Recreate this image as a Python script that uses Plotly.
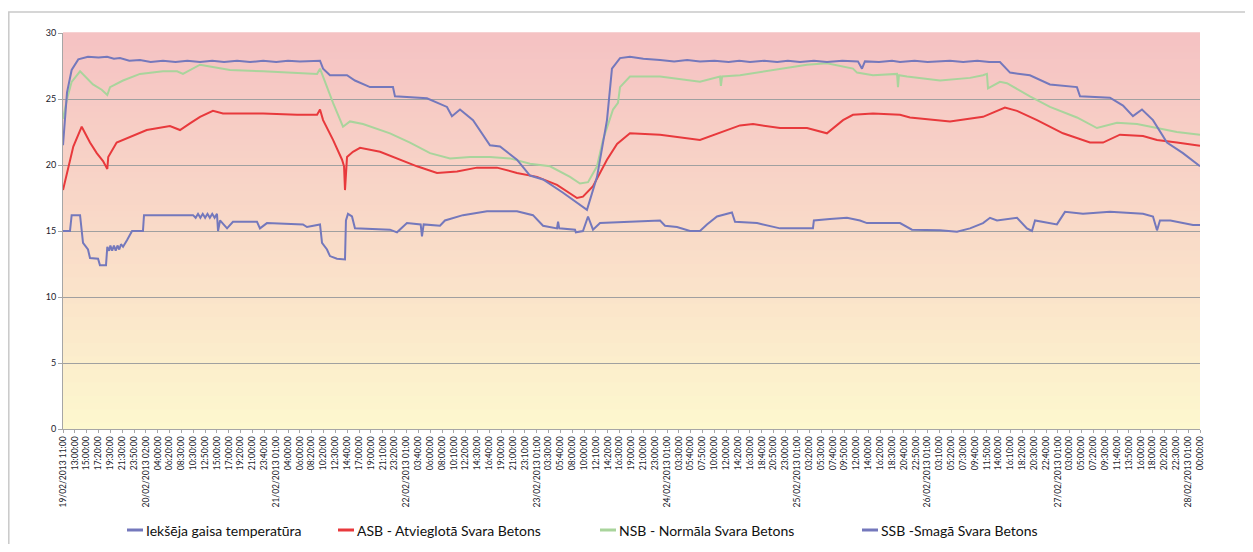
import plotly.graph_objects as go

# ---------------- data (x in tick-label index units, y in degC) ----------------
tick_labels = [
    "19/02/2013 11:00", "13:00:00", "15:00:00", "17:20:00", "19:30:00", "21:30:00", "23:50:00",
    "20/02/2013 02:00", "04:00:00", "06:20:00", "08:30:00", "10:30:00", "12:50:00", "15:00:00",
    "17:00:00", "19:20:00", "21:00:00", "23:40:00",
    "21/02/2013 01:00", "04:00:00", "06:00:00", "08:20:00", "10:20:00", "12:30:00", "14:40:00",
    "17:00:00", "19:00:00", "21:10:00", "23:20:00",
    "22/02/2013 01:00", "03:40:00", "06:00:00", "08:00:00", "10:10:00", "12:20:00", "14:30:00",
    "16:40:00", "19:00:00", "21:00:00", "23:10:00",
    "23/02/2013 01:00", "03:30:00", "05:40:00", "08:00:00", "10:00:00", "12:10:00", "14:20:00",
    "16:30:00", "19:00:00", "21:00:00", "23:00:00",
    "24/02/2013 01:00", "03:30:00", "05:40:00", "07:50:00", "10:00:00", "12:00:00", "14:20:00",
    "16:30:00", "18:40:00", "20:50:00", "23:00:00",
    "25/02/2013 01:00", "03:20:00", "05:30:00", "07:40:00", "09:50:00", "12:00:00", "14:00:00",
    "16:20:00", "18:30:00", "20:40:00", "22:50:00",
    "26/02/2013 01:00", "03:10:00", "05:20:00", "07:30:00", "09:40:00", "11:50:00", "14:00:00",
    "16:10:00", "18:20:00", "20:30:00", "22:40:00",
    "27/02/2013 01:00", "03:00:00", "05:00:00", "07:20:00", "09:30:00", "11:40:00", "13:50:00",
    "16:00:00", "18:00:00", "20:20:00", "22:30:00",
    "28/02/2013 01:00", "00:00:00",
]

series_names = [
    "Iekšēja gaisa temperatūra",
    "ASB - Atvieglotā Svara Betons",
    "NSB - Normāla Svara Betons",
    "SSB -Smagā Svara Betons",
]

iek_x = [0, 0.59, 0.73, 1.44, 1.69, 2.11, 2.28, 2.96, 3.12, 3.63, 3.74, 3.9, 4.0, 4.15, 4.3, 4.45,
         4.6, 4.75, 4.9, 5.07, 5.40, 5.66, 5.83, 6.75, 6.84, 10.98, 11.2, 11.4, 11.6, 11.8, 12.0,
         12.2, 12.4, 12.6, 12.8, 13.00, 13.09, 13.26, 13.85, 14.35, 16.38, 16.63, 17.22, 20.26,
         20.60, 21.70, 21.87, 22.29, 22.54, 23.13, 23.81, 23.89, 24.06, 24.40, 24.65, 27.61,
         28.20, 29.04, 30.20, 30.31, 30.45, 31.83, 32.25, 33.77, 35.80, 38.33, 39.68, 40.53,
         41.71, 41.8, 41.9, 43.23, 43.3, 43.90, 44.33, 44.75, 45.34, 47.87, 50.41, 50.83, 51.84,
         52.94, 53.78, 54.37, 55.22, 56.48, 56.74, 58.60, 60.54, 63.32, 63.40, 64.76, 66.19,
         67.29, 67.88, 70.67, 71.68, 74.05, 75.48, 76.58, 77.68, 78.27, 78.86, 80.55, 81.39,
         81.81, 82.07, 83.92, 84.35, 84.60, 86.12, 88.40, 91.19, 92.03, 92.37, 92.62, 93.50,
         94.56, 95.41, 96]
iek_y = [15.0, 15.0, 16.2, 16.2, 14.1, 13.6, 12.95, 12.9, 12.4, 12.4, 13.8, 13.5, 13.9, 13.5, 13.9,
         13.5, 13.9, 13.6, 14.0, 13.8, 14.3, 14.7, 15.0, 15.0, 16.2, 16.2, 16.0, 16.3, 16.0, 16.3,
         16.0, 16.3, 16.0, 16.3, 16.0, 16.3, 15.0, 15.8, 15.2, 15.7, 15.7, 15.2, 15.6, 15.5,
         15.3, 15.5, 14.1, 13.6, 13.1, 12.9, 12.85, 15.8, 16.3, 16.1, 15.2, 15.1,
         14.9, 15.6, 15.5, 14.6, 15.5, 15.4, 15.8, 16.2, 16.5, 16.5, 16.2, 15.4,
         15.2, 15.7, 15.2, 15.1, 14.9, 15.0, 16.1, 15.1, 15.6, 15.7, 15.8, 15.4, 15.3,
         15.0, 15.0, 15.5, 16.1, 16.4, 15.7, 15.6, 15.2, 15.2, 15.8, 15.9, 16.0,
         15.8, 15.6, 15.6, 15.1, 15.05, 14.95, 15.2, 15.6, 16.0, 15.8, 16.0, 15.2,
         15.0, 15.8, 15.5, 16.1, 16.45, 16.3, 16.45, 16.3, 16.1, 15.05, 15.8, 15.8,
         15.6, 15.45, 15.45]

asb_x = [0, 0.45, 0.87, 1.58, 1.86, 2.28, 2.85, 3.38, 3.74, 3.82, 4.53, 5.66, 7.07, 9.03, 9.88,
         10.72, 11.57, 12.66, 13.51, 16.89, 19.76, 21.45, 21.70, 21.96, 22.80, 23.56, 23.73,
         23.81, 23.98, 24.48, 25.08, 26.77, 28.20, 29.89, 31.58, 33.27, 34.95, 36.64, 38.33,
         40.02, 41.71, 43.40, 43.90, 44.75, 45.93, 46.78, 47.87, 50.41, 53.78, 57.16, 58.26,
         60.54, 62.82, 64.50, 65.86, 66.70, 68.39, 70.67, 71.51, 74.05, 74.89, 77.68, 79.53,
         80.55, 82.24, 84.43, 86.71, 87.81, 89.24, 91.19, 92.37, 94.05, 96]
asb_y = [18.1, 19.9, 21.4, 22.9, 22.4, 21.7, 20.9, 20.3, 19.7, 20.6, 21.7, 22.1, 22.65, 22.95, 22.65,
         23.15, 23.65, 24.1, 23.9, 23.9, 23.8, 23.8, 24.2, 23.4, 21.9, 20.4, 19.9,
         18.1, 20.6, 21.0, 21.3, 21.0, 20.5, 19.9, 19.4, 19.5, 19.8, 19.8, 19.4,
         19.1, 18.5, 17.5, 17.6, 18.4, 20.4, 21.6, 22.4, 22.3, 21.9, 23.0, 23.1,
         22.8, 22.8, 22.4, 23.4, 23.8, 23.9, 23.8, 23.6, 23.4, 23.3, 23.65, 24.35,
         24.1, 23.4, 22.4, 21.7, 21.7, 22.3, 22.2, 21.9, 21.7, 21.45]

nsb_x = [0, 0.34, 0.73, 1.44, 2.53, 3.27, 3.74, 3.97, 5.07, 6.5, 8.44, 9.63, 10.13, 11.57, 12.16,
         14.10, 16.89, 21.45, 21.70, 22.29, 22.80, 23.64, 24.23, 25.33, 27.61, 29.30, 30.99,
         32.68, 34.36, 36.05, 37.74, 39.43, 41.12, 42.81, 43.65, 44.33, 45.09, 45.59, 46.44,
         46.86, 47.03, 47.87, 50.41, 53.78, 55.47, 55.55, 55.65, 57.16, 59.95, 62.82, 64.50,
         66.70, 67.04, 68.39, 70.42, 70.50, 70.58, 71.26, 74.05, 76.58, 77.68, 78.01, 78.1,
         79.11, 79.70, 81.64, 83.33, 85.61, 87.30, 88.99, 90.68, 92.37, 94.05, 96]
nsb_y = [23.5, 25.0, 26.3, 27.1, 26.1, 25.7, 25.3, 25.9, 26.4, 26.9, 27.1, 27.1, 26.9, 27.6, 27.5,
         27.2, 27.1, 26.9, 27.3, 25.9, 24.7, 22.9, 23.3, 23.1, 22.4, 21.7, 20.9,
         20.5, 20.6, 20.6, 20.5, 20.1, 19.9, 19.1, 18.6, 18.7, 19.9, 21.9, 24.2,
         24.7, 25.9, 26.7, 26.7, 26.3, 26.7, 26.0, 26.7, 26.8, 27.2, 27.6, 27.7,
         27.3, 27.0, 26.8, 26.9, 25.9, 26.8, 26.7, 26.4, 26.6, 26.8, 26.9, 25.8,
         26.3, 26.2, 25.2, 24.4, 23.6, 22.8, 23.2, 23.1, 22.8, 22.5, 22.3]

ssb_x = [0, 0.34, 0.73, 1.29, 2.11, 3.0, 3.72, 4.3, 4.81, 5.6, 6.5, 7.4, 8.44, 9.5, 10.5, 11.57,
         12.6, 13.6, 14.7, 15.79, 16.9, 18.0, 19.0, 20.0, 21.7, 21.96, 22.54, 23.98, 24.65,
         25.92, 27.86, 28.03, 30.73, 31.58, 32.42, 32.84, 33.52, 34.62, 36.05, 36.9, 38.33,
         39.43, 40.53, 42.22, 44.24, 45.09, 45.93, 46.35, 47.03, 47.87, 49.0, 50.41, 51.6,
         52.7, 53.78, 55.0, 56.2, 57.1, 58.0, 59.2, 60.3, 61.2, 62.23, 63.4, 64.5, 65.8, 67.12,
         67.46, 67.71, 68.9, 70.0, 70.67, 71.9, 73.0, 74.89, 76.0, 77.2, 78.2, 79.11, 79.96,
         81.64, 83.33, 85.61, 85.87, 88.4, 89.5, 90.34, 91.1, 92.03, 93.21, 94.56, 96]
ssb_y = [21.5, 25.5, 27.2, 28.0, 28.2, 28.15, 28.2, 28.05, 28.1, 27.9, 27.95, 27.8, 27.9, 27.8,
         27.9, 27.8, 27.9, 27.8, 27.9, 27.8, 27.9, 27.8, 27.9, 27.85, 27.9, 27.3, 26.8,
         26.8, 26.4, 25.9, 25.9, 25.2, 25.05, 24.7, 24.4, 23.7, 24.2, 23.4, 21.5, 21.4, 20.4,
         19.2, 18.9, 17.9, 16.6, 19.1, 23.4, 27.3, 28.1, 28.2, 28.05, 27.95, 27.85, 27.95,
         27.85, 27.9, 27.8, 27.9, 27.8, 27.9, 27.8, 27.9, 27.8, 27.9, 27.8, 27.9,
         27.85, 27.3, 27.85, 27.8, 27.9, 27.8, 27.9, 27.8, 27.9, 27.8, 27.9, 27.8, 27.8,
         27.0, 26.8, 26.1, 25.9, 25.2, 25.1, 24.5, 23.7, 24.2, 23.4, 21.7, 20.9, 19.9]

series_x = [iek_x, asb_x, nsb_x, ssb_x]
series_y = [iek_y, asb_y, nsb_y, ssb_y]
series_colors = ["#7478BC", "#E8393C", "#A9D49C", "#7478BC"]

y_ticks = [0, 5, 10, 15, 20, 25, 30]

# ---------------- layout geometry ----------------
OFF = 8                      # default body margin of the written page
W, H = 1253 - 2 * OFF, 552 - 2 * OFF
PL, PR, PT, PB = 63, 1200, 33, 429  # plot area in page pixels


def px_x(px):
    return (px - PL) / (PR - PL)


def px_y(py):
    return (PB - py) / (PB - PT)


fig = go.Figure()

for name, xs, ys, col in zip(series_names, series_x, series_y, series_colors):
    fig.add_trace(go.Scatter(x=xs, y=ys, mode="lines", name=name,
                             line=dict(color=col, width=2), showlegend=False))

shapes = []
# gradient background (pink at top to pale yellow at bottom)
top_c = (245, 194, 195)
mid_c = (249, 218, 200)
bot_c = (253, 248, 206)
nb = 60
for i in range(nb):
    t = (i + 0.5) / nb  # 0 bottom -> 1 top
    if t < 0.5:
        a, b, f = bot_c, mid_c, t / 0.5
    else:
        a, b, f = mid_c, top_c, (t - 0.5) / 0.5
    c = tuple(round(a[k] + (b[k] - a[k]) * f) for k in range(3))
    shapes.append(dict(type="rect", xref="paper", yref="paper", x0=0, x1=1,
                       y0=i / nb, y1=(i + 1) / nb + 0.002, layer="below",
                       line=dict(width=0), fillcolor="rgb(%d,%d,%d)" % c))

# outer frame (left and top edges visible)
shapes.append(dict(type="rect", xref="paper", yref="paper",
                   x0=px_x(OFF + 0.8), x1=px_x(1290), y0=px_y(600), y1=px_y(12),
                   line=dict(color="#C9C9C9", width=1.5), fillcolor="rgba(0,0,0,0)"))

# custom legend
leg_py = 530
leg_line_x = [127, 338, 600, 862]
annotations = []
for name, col, lx in zip(series_names, series_colors, leg_line_x):
    shapes.append(dict(type="line", xref="paper", yref="paper",
                       x0=px_x(lx), x1=px_x(lx + 16), y0=px_y(leg_py), y1=px_y(leg_py),
                       line=dict(color=col, width=3)))
    annotations.append(dict(xref="paper", yref="paper", x=px_x(lx + 17), y=px_y(leg_py),
                            text=name, showarrow=False, xanchor="left", yanchor="middle",
                            font=dict(family="Lato", size=14, color="#111111")))

fig.update_layout(
    width=W, height=H,
    margin=dict(l=PL - OFF, r=(W + OFF) - PR, t=PT - OFF, b=(H + OFF) - PB),
    paper_bgcolor="white",
    plot_bgcolor="rgba(0,0,0,0)",
    shapes=shapes,
    annotations=annotations,
    font=dict(family="Lato", color="#222"),
)

fig.update_xaxes(
    range=[0, 96], tickmode="array", tickvals=list(range(len(tick_labels))), ticktext=tick_labels,
    tickangle=-90, tickfont=dict(family="Lato", size=8.5, color="#1a1a2a"),
    showgrid=False, zeroline=False, showline=True, linecolor="#A6A6A6", linewidth=1,
    ticks="outside", ticklen=3, tickcolor="#A6A6A6",
)
fig.update_yaxes(
    range=[0, 30], tickmode="array", tickvals=y_ticks,
    tickfont=dict(family="Lato", size=9, color="#1a1a2a"),
    showgrid=True, gridcolor="#A0A0A0", gridwidth=1.2, zeroline=False,
    showline=True, linecolor="#A6A6A6", linewidth=1,
    ticks="outside", ticklen=4, tickcolor="#A6A6A6",
)

fig.write_html("out.html")
